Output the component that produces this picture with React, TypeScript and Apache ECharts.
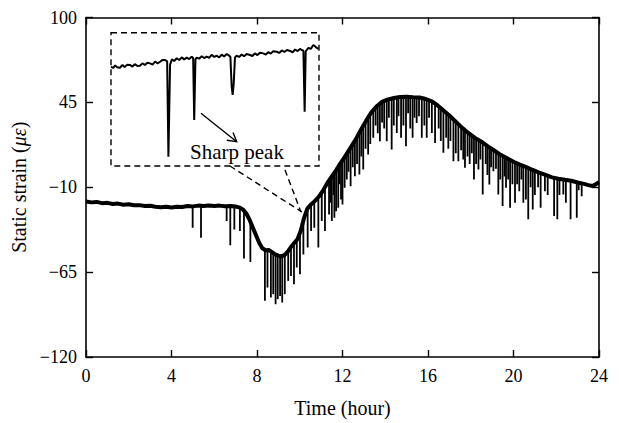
import { useEffect, useRef } from "react";
import * as echarts from "echarts";

const FONT = "Liberation Serif";
const FS = 18;
const TITLE_FS = 20;

// Main strain curve (hour, microstrain)
const curveTime = [
  0, 0.25, 0.5, 0.75, 1, 1.25, 1.5, 1.75, 2, 2.25, 2.5, 2.75, 3, 3.25, 3.5, 3.75, 4, 4.25, 4.5, 4.75,
  5, 5.25, 5.5, 5.75, 6, 6.25, 6.5, 6.75, 7, 7.2, 7.35, 7.5, 7.65, 7.8, 7.95, 8.1, 8.25, 8.4, 8.55, 8.7,
  8.85, 9.0, 9.15, 9.3, 9.45, 9.6, 9.75, 9.9, 10.05, 10.2, 10.35, 10.5, 10.7, 10.9, 11.1, 11.3, 11.5, 11.7,
  11.9, 12.1, 12.35, 12.6, 12.85, 13.1, 13.35, 13.6, 13.85, 14.1, 14.4, 14.7, 15.0, 15.3, 15.6, 15.9, 16.2,
  16.45, 16.7, 17.0, 17.3, 17.6, 17.9, 18.2, 18.5, 18.8, 19.1, 19.4, 19.7, 20.0, 20.3, 20.6, 20.9, 21.2,
  21.5, 21.8, 22.1, 22.4, 22.7, 23.0, 23.3, 23.5, 23.7, 23.85, 24,
];
const curveStrain = [
  -19.2, -19.8, -19.5, -20.3, -20.1, -20.8, -20.6, -21.3, -21.0, -21.7, -21.6, -22.2, -22.0, -22.6, -22.9,
  -22.7, -23.1, -22.6, -22.8, -22.2, -22.4, -21.9, -22.2, -21.8, -22.1, -21.9, -22.3, -22.1, -22.5, -23.2,
  -24.5, -27, -31, -36, -41, -46, -49.5, -50.8, -50.6, -52, -53.5, -54.3, -54.8, -53.8, -51.5, -48.5, -46,
  -43.5, -38, -30, -24, -21.5, -19, -16, -12, -7, -3, 1, 5.5, 9.5, 15, 20.5, 27, 33, 38.5, 42.5, 45.3, 46.8,
  47.8, 48.5, 48.7, 48.4, 48.2, 47.2, 45.5, 43, 40, 36.5, 32.5, 28.5, 25, 22, 19.5, 16.5, 13.8, 11, 8.8,
  6.5, 4.7, 3, 1.2, -0.5, -2, -3.6, -4.5, -5.2, -5.8, -6.9, -7.8, -8.6, -9.2, -8, -6.8,
];

// Sharp downward peaks: [hour, curve level, lowest reading]
const spikes: [number, number, number][] = [
  [4.99, -22.3, -36.2], [5.38, -22, -42.7], [6.58, -22.2, -31.9], [6.75, -22.1, -47.6], [6.94, -22.4, -37.3],
  [7.2, -23.2, -38.4], [7.39, -25, -56.2], [7.69, -33, -58.4],
  [8.37, -50.5, -83.6], [8.49, -50.8, -75], [8.65, -51.5, -81.4], [8.76, -52.6, -79.3], [8.87, -53.6, -85.8],
  [8.97, -54.2, -82.5], [9.08, -54.6, -80.4], [9.18, -54.6, -84.7], [9.3, -53.8, -79.3], [9.46, -51.4, -70.7],
  [9.59, -48.6, -67.5], [9.73, -46.3, -72.8], [9.86, -44, -62], [10.01, -39.5, -66.4], [10.17, -31.5, -53.5],
  [10.37, -23.7, -49.1], [10.53, -21.2, -38.4], [10.68, -19.2, -36.2], [10.87, -16.4, -49.1],
  [11.03, -13.4, -31.9], [11.18, -10, -38.4], [11.37, -5.6, -27.6], [11.45, -4, -20], [11.5, -3, -31.9],
  [11.58, -1.4, -15], [11.62, -0.6, -29.7], [11.7, 1, -25.5], [11.8, 3.2, -23.3], [11.85, 4.4, -8],
  [11.93, 6, -17.9], [12.0, 7.5, -21.1], [12.1, 9.5, -10.4], [12.2, 11.7, -5], [12.28, 13.5, 0],
  [12.38, 15.6, -9.3], [12.48, 17.8, 3], [12.58, 20, -2.9], [12.68, 22.5, 5], [12.79, 25.4, -1.8],
  [12.88, 27.7, 10], [12.97, 29.8, 1.5], [13.08, 32.5, 15], [13.2, 35.2, 11.2], [13.3, 37.4, 18],
  [13.44, 39.9, 22], [13.55, 41.7, 30], [13.65, 43, 25], [13.75, 44.2, 19.8], [13.85, 45.3, 32],
  [13.95, 45.9, 28], [14.07, 46.6, 19.8], [14.17, 47.1, 35], [14.3, 47.5, 14.4], [14.4, 47.8, 30],
  [14.54, 48.1, 25.2], [14.62, 48.3, 36], [14.74, 48.5, 22], [14.85, 48.6, 30], [14.97, 48.7, 16.5],
  [15.07, 48.6, 38], [15.17, 48.5, 28], [15.28, 48.4, 22], [15.37, 48.4, 35], [15.47, 48.3, 31.6],
  [15.58, 48.2, 36], [15.71, 47.8, 22], [15.83, 47.5, 30], [15.94, 47, 22], [16.05, 46.4, 35],
  [16.18, 45.6, 25.2], [16.33, 44.2, 18.7], [16.5, 42.4, 28], [16.6, 41.2, 20], [16.72, 39.8, 12.3],
  [16.85, 38.3, 22], [16.95, 37.1, 15], [17.05, 35.8, 20], [17.19, 34, 6.8], [17.3, 32.5, 12],
  [17.42, 30.9, 6.8], [17.55, 29.2, 14], [17.65, 27.9, 8], [17.73, 27, 2.6], [17.85, 25.6, 10],
  [17.95, 24.5, 5], [18.05, 23.5, 12], [18.15, 22.5, -5], [18.25, 21.6, 5], [18.36, 20.7, 1.5],
  [18.45, 19.9, 8], [18.56, 18.9, -14.7], [18.7, 17.5, 5], [18.78, 16.7, -2], [18.87, 15.9, -8.2],
  [18.95, 15.1, 3], [19.06, 14.2, 0.4], [19.18, 13, 2], [19.29, 12, -14.7], [19.38, 11.2, -5],
  [19.49, 10.3, -22.2], [19.58, 9.7, -3], [19.65, 9.1, -10.4], [19.75, 8.4, -5], [19.84, 7.6, -23.3],
  [19.95, 6.9, -8], [20.07, 6.1, -20], [20.17, 5.5, -8], [20.27, 4.9, -12.6], [20.37, 4.3, -5],
  [20.46, 3.8, -20], [20.58, 3.1, -18], [20.69, 2.5, -30.8], [20.8, 1.9, -10], [20.9, 1.2, -24.4],
  [21.0, 0.6, -15], [21.15, -0.2, -10], [21.27, -0.9, -23.3], [21.47, -1.9, -12.6], [21.6, -2.6, -15],
  [21.9, -3.9, -28.7], [22.05, -4.3, -30.8], [22.15, -4.6, -15], [22.33, -5, -14.7], [22.45, -5.3, -20],
  [22.67, -5.8, -30.8], [22.96, -6.8, -29.7], [23.05, -7.1, -12], [23.19, -7.4, -15.8],
];

// Zoomed-in detail (inset): relative time, relative strain
const insetTime = [
  0, 1, 2, 3, 4.3, 5.5, 6.5, 7.8, 9.1, 10.3, 11.5, 12.7, 13.9, 15.1, 16.3, 17.5, 18.8, 20, 21.2, 22.4,
  23.6, 24.8, 26, 27, 27.6, 28.4, 29.3, 30.4, 31.6, 32.8, 34, 35.2, 36.4, 37.6, 38.8, 39.5, 40, 40.6,
  41.2, 42.4, 43.6, 44.8, 46, 47.2, 48.4, 49.6, 50.8, 52, 53.2, 54.4, 55.6, 56.6, 57.4, 58.0, 58.5,
  59.0, 59.6, 60.4, 61.6, 62.8, 64, 65.2, 66.8, 68, 69.2, 70.4, 71.6, 73.2, 74.4, 75.6, 76.8, 78,
  79.7, 80.9, 82.1, 83.3, 84.6, 86.1, 87.3, 88.5, 89.7, 90.9, 91.7, 92.5, 93.1, 93.6, 94.9, 96,
  97.3, 98.5, 99.7,
];
const insetStrain = [
  74.5, 73.5, 75.5, 74, 73.7, 75.8, 74.2, 76, 75.8, 74.6, 76.4, 75, 75.2, 77, 75.8, 77.5, 77, 76, 78.4, 77,
  78.2, 79.6, 79.5, 78.5, 7, 76, 80, 78.8, 80.8, 79.5, 81.5, 80, 81.3, 80.2, 82, 81, 34.5, 80,
  81.3, 80.5, 82.3, 81, 82, 81.2, 83.4, 81.8, 82.7, 81.5, 83.5, 82.2, 84, 83, 82, 60, 53.3,
  62, 81.5, 82.7, 81.8, 83.6, 82.4, 84, 83.3, 82.5, 84.5, 83.2, 85, 84.5, 83.6, 85.4, 84.3, 86,
  85.7, 84.8, 86.7, 85.5, 87, 86.3, 85.2, 87.4, 86.2, 87.8, 87, 86.5, 40.7, 86, 88.7, 87.8,
  90.8, 89.2, 87.8,
];

const xTicks = [0, 4, 8, 12, 16, 20, 24];
const yTicks = [-120, -65, -10, 45, 100];

export default function App() {
  const ref = useRef<HTMLDivElement>(null);
  useEffect(() => {
    document.body.style.margin = "0";
    if (!ref.current) return;
    const chart = echarts.init(ref.current, undefined, { renderer: "svg" });
    const text = { color: "#000", fontFamily: FONT, fontSize: FS };
    const title = { color: "#000", fontFamily: FONT, fontSize: TITLE_FS };
    const axisLine = { show: true, onZero: false, lineStyle: { color: "#000", width: 1.6 } };
    const tick = { show: true, inside: true, length: 7, lineStyle: { color: "#000", width: 1.4 } };
    const minus = (v: number) => String(v).replace("-", "\u2212");
    const xMin = xTicks[0], xMax = xTicks[xTicks.length - 1];
    const xInt = xTicks[1] - xTicks[0];
    const yMin = yTicks[0], yMax = yTicks[yTicks.length - 1];
    const yInt = yTicks[1] - yTicks[0];
    const dash = { stroke: "#000", lineWidth: 1.4, lineDash: [6, 4], fill: "none" };

    chart.setOption({
      animation: false,
      backgroundColor: "#fff",
      grid: [
        { left: 86, top: 17.5, right: 20, bottom: 65 },
        { left: 111, top: 32.7, width: 208, height: 133.3 },
      ],
      xAxis: [
        {
          type: "value", gridIndex: 0, position: "bottom", min: xMin, max: xMax, interval: xInt,
          axisLine, axisTick: tick, splitLine: { show: false },
          axisLabel: { ...text, margin: 10, formatter: minus },
          name: "Time (hour)", nameLocation: "middle", nameGap: 41, nameTextStyle: title,
        },
        {
          type: "value", gridIndex: 0, position: "top", min: xMin, max: xMax, interval: xInt,
          axisLine, axisTick: tick, splitLine: { show: false }, axisLabel: { show: false },
        },
        { type: "value", gridIndex: 1, min: 0, max: 100, show: false },
      ],
      yAxis: [
        {
          type: "value", gridIndex: 0, position: "left", min: yMin, max: yMax, interval: yInt,
          axisLine, axisTick: tick, splitLine: { show: false },
          axisLabel: { ...text, margin: 9, formatter: minus },
          name: "Static strain ({i|\u03bc\u03b5})", nameLocation: "middle", nameGap: 51,
          nameTextStyle: { ...title, rich: { i: { ...title, fontStyle: "italic" } } },
        },
        {
          type: "value", gridIndex: 0, position: "right", min: yMin, max: yMax, interval: yInt,
          axisLine, axisTick: tick, splitLine: { show: false }, axisLabel: { show: false },
        },
        { type: "value", gridIndex: 1, min: 0, max: 100, show: false },
      ],
      series: [
        {
          type: "custom",
          xAxisIndex: 0, yAxisIndex: 0,
          data: spikes,
          encode: { x: 0, y: [1, 2] },
          clip: true,
          renderItem: (_p: any, api: any) => {
            const a = api.coord([api.value(0), api.value(1)]);
            const b = api.coord([api.value(0), api.value(2)]);
            return {
              type: "line",
              shape: { x1: a[0], y1: a[1], x2: b[0], y2: b[1] },
              style: { stroke: "#000", lineWidth: 1.8 },
            };
          },
          z: 2,
        },
        {
          type: "line",
          xAxisIndex: 0, yAxisIndex: 0,
          data: curveTime.map((t, i) => [t, curveStrain[i]]),
          showSymbol: false, symbol: "none",
          lineStyle: { color: "#000", width: 4 },
          z: 3,
        },
        {
          type: "line",
          xAxisIndex: 2, yAxisIndex: 2,
          data: insetTime.map((t, i) => [t, insetStrain[i]]),
          showSymbol: false, symbol: "none",
          lineStyle: { color: "#000", width: 2 },
          z: 3,
        },
      ],
      graphic: [
        { type: "rect", shape: { x: 111, y: 32.7, width: 208, height: 133.3 }, style: dash, silent: true },
        { type: "line", shape: { x1: 230, y1: 166, x2: 302, y2: 212 }, style: dash, silent: true },
        { type: "line", shape: { x1: 285, y1: 170, x2: 301, y2: 212 }, style: dash, silent: true },
        {
          type: "polyline",
          shape: { points: [[201, 113.3], [236.7, 141.7]] },
          style: { stroke: "#000", lineWidth: 1.4, fill: "none" },
          silent: true,
        },
        {
          type: "polyline",
          shape: { points: [[233, 132.4], [236.7, 141.7], [226.8, 140.2]] },
          style: { stroke: "#000", lineWidth: 1.4, fill: "none" },
          silent: true,
        },
        {
          type: "text",
          x: 190, y: 152,
          style: { text: "Sharp peak", fontFamily: FONT, fontSize: 21, fill: "#000", align: "left", verticalAlign: "middle" },
          silent: true,
        },
      ],
    });
    return () => chart.dispose();
  }, []);
  return <div ref={ref} style={{ width: 619, height: 423 }} />;
}
